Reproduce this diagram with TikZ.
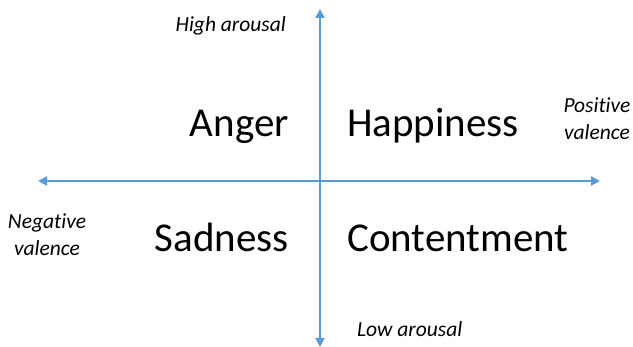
\documentclass[tikz,border=0pt]{standalone}
\usepackage{fontspec}
\setmainfont{Carlito}[Ligatures=NoCommon]
\usetikzlibrary{arrows.meta}
\definecolor{axisblue}{RGB}{91,155,213}

\tikzset{
    axis/.style={line width=2.4pt, axisblue, {Triangle[length=9pt,width=9pt]}-{Triangle[length=9pt,width=9pt]}},
    emotion/.style={inner sep=0pt, font=\fontsize{41}{49}\selectfont},
    pole/.style={inner sep=0pt, align=center, font=\fontsize{21.5}{27}\selectfont\itshape}
}

\begin{document}
\begin{tikzpicture}[x=1pt,y=-1pt]
    \useasboundingbox (0,0) rectangle (633,347);
    % ends of the two axes
    \coordinate (west) at (38,181);
    \coordinate (east) at (600,181);
    \coordinate (north) at (320,9);
    \coordinate (south) at (320,347);
    \draw[axis] (west) -- (east);
    \draw[axis] (south) -- (north);
    % quadrants
    \node[emotion, anchor=base east] (anger) at (289,137) {Anger};
    \node[emotion, anchor=base west] (happiness) at (347,137) {Happiness};
    \node[emotion, anchor=base east] (sadness) at (289,252) {Sadness};
    \node[emotion, anchor=base west] (contentment) at (347,252) {Contentment};
    % axis labels
    \node[pole, anchor=base east] (high) at (286,32) {High arousal};
    \node[pole, anchor=base west] (low) at (357,337) {Low arousal};
    \node[pole, anchor=base] (positive) at (597,140) {Positive\\valence};
    \node[pole, anchor=base] (negative) at (47,256) {Negative\\valence};
\end{tikzpicture}
\end{document}
